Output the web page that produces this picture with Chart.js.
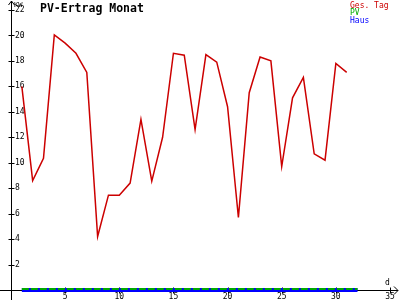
<!DOCTYPE html>
<html>
<head>
<meta charset="utf-8">
<script src="https://cdn.jsdelivr.net/npm/chart.js@4"></script>
<style>
  html, body { margin: 0; padding: 0; background: #ffffff; }
  canvas { display: block; }
</style>
</head>
<body>
<canvas id="pvChart" width="400" height="300"></canvas>
<script>
// Daten
const tage = [1, 2, 3, 4, 5, 6, 7, 8, 9, 10, 11, 12, 13, 14, 15, 16, 17, 18, 19, 20, 21, 22, 23, 24, 25, 26, 27, 28, 29, 30, 31];
const gesTag = [16.0, 8.6, 10.35, 20.05, 19.4, 18.6, 17.1, 4.2, 7.45, 7.45, 8.4, 13.4, 8.55, 12.0, 18.6, 18.45,
    12.6, 18.5, 17.9, 14.4, 5.7, 15.5, 18.3, 18.0, 9.7, 15.1, 16.7, 10.7, 10.2, 17.8, 17.1];
const pvTage = [1, 2, 3, 4, 5, 6, 7, 8, 9, 10, 11, 12, 13, 14, 15, 16, 17, 18, 19, 20, 21, 22, 23, 24, 25, 26, 27, 28, 29, 30, 31, 32];
const pv = [0, 0, 0, 0, 0, 0, 0, 0, 0, 0, 0, 0, 0, 0, 0, 0, 0, 0, 0, 0, 0, 0, 0, 0, 0, 0, 0, 0, 0, 0, 0, 0];
const haus = [0, 0, 0, 0, 0, 0, 0, 0, 0, 0, 0, 0, 0, 0, 0, 0, 0, 0, 0, 0, 0, 0, 0, 0, 0, 0, 0, 0, 0, 0, 0, 0];

const titel = "PV-Ertrag Monat";
const yEinheit = "KW";
const xEinheit = "d";

const mono = "'DejaVu Sans Mono', 'Liberation Mono', monospace";

function punkte(xs, ys) {
    return ys.map(function (v, i) { return {x: xs[i], y: v}; });
}

// Achsen, Pfeile, Titel, Legende
const achsenPlugin = {
    id: 'achsen',
    beforeDatasetsDraw(chart) {
        const ctx = chart.ctx;
        const xs = chart.scales.x;
        const ys = chart.scales.y;
        const x0 = Math.round(xs.getPixelForValue(0)) + 0.5;
        const y0 = Math.round(ys.getPixelForValue(0)) + 0.5;
        ctx.save();
        ctx.strokeStyle = '#000000';
        ctx.lineWidth = 1;
        ctx.beginPath();
        ctx.moveTo(0, y0);
        ctx.lineTo(398, y0);
        ctx.moveTo(x0, 300);
        ctx.lineTo(x0, 1);
        // Pfeile
        ctx.moveTo(394, y0 - 4);
        ctx.lineTo(398, y0);
        ctx.lineTo(394, y0 + 4);
        ctx.moveTo(x0 - 3, 5);
        ctx.lineTo(x0, 1);
        ctx.lineTo(x0 + 3, 5);
        // Striche
        ys.ticks.forEach(function (t, i) {
            if (t.value === 0) return;
            const p = Math.round(ys.getPixelForTick(i)) + 0.5;
            ctx.moveTo(x0 - 3, p);
            ctx.lineTo(x0 + 3, p);
        });
        xs.ticks.forEach(function (t, i) {
            if (t.value === 0) return;
            const p = Math.round(xs.getPixelForTick(i)) + 0.5;
            ctx.moveTo(p, y0 - 3);
            ctx.lineTo(p, y0 + 3);
        });
        ctx.stroke();
        ctx.restore();
    },
    afterDraw(chart) {
        const ctx = chart.ctx;
        const x0 = chart.scales.x.getPixelForValue(0);
        ctx.save();
        ctx.fillStyle = '#000000';
        ctx.textBaseline = 'alphabetic';
        ctx.textAlign = 'left';
        ctx.font = 'bold 11.5px ' + mono;
        ctx.fillText(titel, 40, 12);
        ctx.font = '7px ' + mono;
        ctx.fillText(yEinheit, x0 + 3, 7);
        ctx.font = '8px ' + mono;
        ctx.fillText(xEinheit, 385, 285);
        // Legende
        ctx.font = '8px ' + mono;
        chart.data.datasets.forEach(function (ds, i) {
            ctx.fillStyle = ds.borderColor;
            ctx.fillText(ds.label, 350, 8 + i * 7.3);
        });
        ctx.restore();
    }
};

const ctx = document.getElementById('pvChart').getContext('2d');
const pvChart = new Chart(ctx, {
    type: 'line',
    data: {
        datasets: [{
            label: 'Ges. Tag',
            data: punkte(tage, gesTag),
            borderColor: '#cc0000',
            borderWidth: 1.5,
            pointRadius: 0,
            tension: 0,
            order: 0
        }, {
            label: 'PV',
            data: punkte(pvTage, pv),
            borderColor: '#00aa00',
            borderWidth: 4,
            borderDash: [7, 2],
            pointRadius: 0,
            tension: 0,
            clip: {left: 0, top: 0, right: 0, bottom: 0},
            order: 1
        }, {
            label: 'Haus',
            data: punkte(pvTage, haus),
            borderColor: '#0000ff',
            borderWidth: 4,
            pointRadius: 0,
            tension: 0,
            clip: {left: 0, top: 0, right: 0, bottom: 2},
            order: 2
        }]
    },
    options: {
        responsive: false,
        animation: false,
        devicePixelRatio: 1,
        layout: {padding: {top: 10, right: 10, left: 0, bottom: 0}},
        plugins: {
            legend: {display: false},
            tooltip: {enabled: false}
        },
        scales: {
            x: {
                type: 'linear',
                min: 0,
                max: 35,
                border: {display: false},
                grid: {display: false, drawTicks: false},
                afterFit: function (scale) { scale.height = 10; },
                ticks: {
                    stepSize: 5,
                    padding: 2,
                    color: '#000000',
                    maxRotation: 0,
                    font: {family: mono, size: 8},
                    callback: function (v) { return v === 0 ? '' : v; }
                }
            },
            y: {
                min: 0,
                max: 22,
                border: {display: false},
                grid: {display: false, drawTicks: false},
                afterFit: function (scale) { scale.width = 11; },
                ticks: {
                    stepSize: 2,
                    mirror: true,
                    padding: 4,
                    color: '#000000',
                    font: {family: mono, size: 8},
                    callback: function (v) { return v === 0 ? '' : v; }
                }
            }
        }
    },
    plugins: [achsenPlugin]
});
</script>
</body>
</html>
